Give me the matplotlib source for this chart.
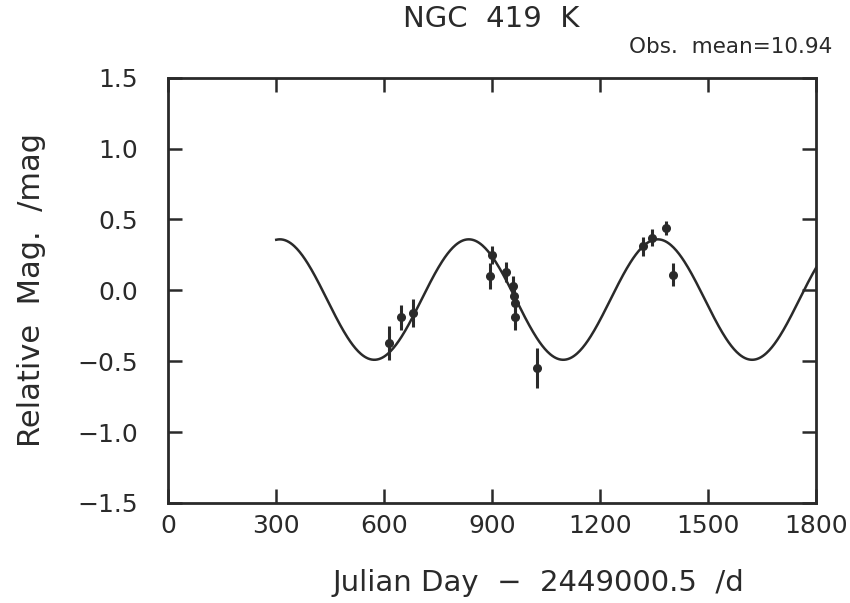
import numpy as np
import matplotlib
matplotlib.use("Agg")
import matplotlib.pyplot as plt

# observed points (JD - 2449000.5, relative mag, error)
jd = [614, 647, 681, 894, 900, 939, 958, 961, 963, 964, 1025, 1319, 1344, 1383, 1403]
mag = [-0.37, -0.19, -0.16, 0.10, 0.25, 0.13, 0.03, -0.04, -0.09, -0.19, -0.55, 0.31, 0.37, 0.44, 0.11]
err = [0.12, 0.09, 0.10, 0.09, 0.065, 0.07, 0.07, 0.07, 0.07, 0.09, 0.14, 0.065, 0.06, 0.05, 0.08]

# fitted sinusoid parameters
fit_period = 525.0
fit_t_max = 835.0
fit_mean = -0.065
fit_amp = 0.425
fit_range = (300, 1800)

xticks = [0, 300, 600, 900, 1200, 1500, 1800]
yticks = [-1.5, -1.0, -0.5, 0.0, 0.5, 1.0, 1.5]

plt.rcParams['font.family'] = ['DejaVu Sans']
ink = '#2a2a2a'

fig = plt.figure(figsize=(8.5, 6.03), dpi=100)
ax = fig.add_axes([0.198, 0.166, 0.762, 0.705])

t = np.linspace(fit_range[0], fit_range[1], 600)
model = fit_mean + fit_amp * np.cos(2 * np.pi * (t - fit_t_max) / fit_period)
ax.plot(t, model, color=ink, lw=1.8)

ax.errorbar(jd, mag, yerr=err, fmt='o', color=ink, ms=5.5,
            elinewidth=2.2, capsize=0)

ax.set_xlim(0, 1800)
ax.set_ylim(-1.5, 1.5)
ax.set_xticks(xticks)
ax.set_yticks(yticks)
ax.set_yticklabels([f"{v:.1f}".replace('-', '\u2212') for v in yticks])
ax.tick_params(direction='in', length=10, width=1.8, top=True, right=True,
               labelsize=18, color=ink, labelcolor=ink)
ax.tick_params(axis='x', pad=8)
ax.tick_params(axis='y', pad=22)
for s in ax.spines.values():
    s.set_linewidth(2)
    s.set_color(ink)

fig.text(538 / 850, 1 - 583 / 603, 'Julian Day  \u2212  2449000.5  /d',
         ha='center', va='center', fontsize=21, color=ink)
fig.text(32 / 850, 1 - 290 / 603, 'Relative  Mag.  /mag', rotation=90,
         ha='center', va='center', fontsize=22, color=ink)

fig.text(491 / 850, 1 - 19 / 603, 'NGC  419  K', ha='center', va='center',
         fontsize=21, color=ink)
fig.text(731 / 850, 1 - 47 / 603, 'Obs.  mean=10.94', ha='center', va='center',
         fontsize=15.5, color=ink)

fig.savefig('out.png', dpi=100)
